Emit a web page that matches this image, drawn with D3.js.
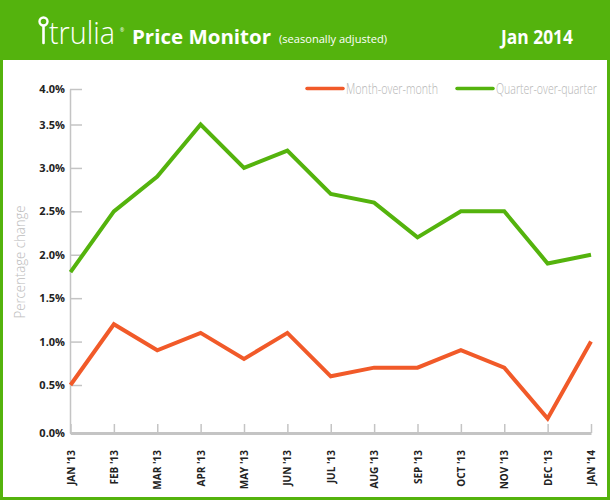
<!DOCTYPE html>
<html>
<head>
<meta charset="utf-8">
<script src="https://cdn.jsdelivr.net/npm/d3@7"></script>
<style>
  html, body { margin: 0; padding: 0; background: #fff; }
  svg { display: block; }
</style>
</head>
<body>
<svg id="chart" width="610" height="500"></svg>
<script>
const months = ["JAN '13","FEB '13","MAR '13","APR '13","MAY '13","JUN '13","JUL '13","AUG '13","SEP '13","OCT '13","NOV '13","DEC '13","JAN '14"];
const monthOverMonth = [0.5, 1.2, 0.9, 1.1, 0.8, 1.1, 0.6, 0.7, 0.7, 0.9, 0.7, 0.15, 1.0];
const quarterOverQuarter = [1.8, 2.5, 2.9, 3.5, 3.0, 3.2, 2.7, 2.6, 2.2, 2.5, 2.5, 1.9, 2.0];
const yTicks = [0, 0.5, 1.0, 1.5, 2.0, 2.5, 3.0, 3.5, 4.0];
const seriesNames = ["Month-over-month", "Quarter-over-quarter"];

const GREEN = "#54b30d";
const ORANGE = "#f15a29";
const AXIS = "#c4c4c4";

const svg = d3.select("#chart");

// frame
svg.append("rect").attr("x", 0).attr("y", 0).attr("width", 610).attr("height", 500).attr("fill", GREEN);
svg.append("rect").attr("x", 3).attr("y", 60).attr("width", 604).attr("height", 437).attr("fill", "#fff");

// header
const pin = svg.append("g").attr("fill", "none").attr("stroke", "#fff");
pin.append("circle").attr("cx", 43.5).attr("cy", 21.5).attr("r", 4).attr("stroke-width", 2.4);
pin.append("path").attr("d", "M43.5,26 L43.5,43").attr("stroke-width", 2.6).attr("stroke-linecap", "round");

svg.append("text").attr("x", 49).attr("y", 44)
  .attr("font-family", "'Open Sans', sans-serif").attr("font-weight", 300)
  .attr("font-size", 31).attr("fill", "#fff")
  .attr("textLength", 66).attr("lengthAdjust", "spacingAndGlyphs")
  .text("trulia");
svg.append("text").attr("x", 120).attr("y", 32)
  .attr("font-family", "'Open Sans', sans-serif").attr("font-size", 5).attr("fill", "#fff")
  .text("®");
svg.append("text").attr("x", 132).attr("y", 44)
  .attr("font-family", "'Open Sans', sans-serif").attr("font-weight", 700)
  .attr("font-size", 20).attr("fill", "#fff")
  .attr("textLength", 139).attr("lengthAdjust", "spacingAndGlyphs")
  .text("Price Monitor");
svg.append("text").attr("x", 279).attr("y", 43)
  .attr("font-family", "'Open Sans', sans-serif").attr("font-weight", 400)
  .attr("font-size", 10.5).attr("fill", "#fff")
  .attr("textLength", 108).attr("lengthAdjust", "spacingAndGlyphs")
  .text("(seasonally adjusted)");
svg.append("text").attr("x", 573).attr("y", 44).attr("text-anchor", "end")
  .attr("font-family", "'Open Sans', sans-serif").attr("font-weight", 700)
  .attr("font-size", 19).attr("fill", "#fff")
  .attr("textLength", 72).attr("lengthAdjust", "spacingAndGlyphs")
  .text("Jan 2014");

// scales
const x = d3.scalePoint().domain(months).range([70.5, 591]);
const y = d3.scaleLinear().domain([0, 0.5, 3.5, 4.0]).range([433, 385, 124.5, 89]);

// y axis
const yAxis = svg.append("g").attr("transform", "translate(70,0)")
  .call(d3.axisLeft(y).tickValues(yTicks).tickSizeInner(-12).tickSizeOuter(0).tickPadding(5)
    .tickFormat(d => d.toFixed(1) + "%"));
yAxis.select(".domain").attr("stroke", AXIS).attr("stroke-width", 1.5);
yAxis.selectAll(".tick line").attr("stroke", AXIS).attr("stroke-width", 1.5);
yAxis.selectAll(".tick text")
  .attr("font-family", "'Open Sans', sans-serif").attr("font-weight", 700)
  .attr("font-size", 11).attr("fill", "#222");

// x axis
const xAxis = svg.append("g").attr("transform", "translate(0,433)")
  .call(d3.axisBottom(x).tickSizeInner(-9).tickSizeOuter(0));
xAxis.select(".domain").attr("stroke", AXIS).attr("stroke-width", 3);
xAxis.selectAll(".tick line").attr("stroke", AXIS).attr("stroke-width", 1.5);
xAxis.selectAll(".tick text")
  .attr("transform", "rotate(-90)")
  .attr("x", -17).attr("y", 0).attr("dy", "0.35em")
  .attr("text-anchor", "end")
  .attr("font-family", "'Open Sans', sans-serif").attr("font-weight", 700)
  .attr("font-size", 10).attr("fill", "#222");

// y title
svg.append("text").attr("transform", "translate(25,262) rotate(-90)")
  .attr("text-anchor", "middle")
  .attr("font-family", "'Open Sans', sans-serif").attr("font-weight", 300)
  .attr("font-size", 15).attr("fill", "#bdbdbd")
  .attr("textLength", 113).attr("lengthAdjust", "spacingAndGlyphs")
  .text("Percentage change");

// lines
const line = d3.line().x((d, i) => x(months[i])).y(d => y(d));
svg.append("path").datum(quarterOverQuarter).attr("d", line)
  .attr("fill", "none").attr("stroke", GREEN).attr("stroke-width", 4);
svg.append("path").datum(monthOverMonth).attr("d", line)
  .attr("fill", "none").attr("stroke", ORANGE).attr("stroke-width", 4);

// legend
const legend = [
  {name: seriesNames[0], color: ORANGE, x0: 307, x1: 343, tx: 346, tl: 92},
  {name: seriesNames[1], color: GREEN, x0: 457, x1: 493, tx: 496, tl: 101}
];
legend.forEach(l => {
  svg.append("line").attr("x1", l.x0).attr("x2", l.x1).attr("y1", 88.5).attr("y2", 88.5)
    .attr("stroke", l.color).attr("stroke-width", 3.5).attr("stroke-linecap", "round");
  const t = svg.append("text").attr("x", 0).attr("y", 0)
    .attr("font-family", "'Open Sans', sans-serif").attr("font-weight", 300)
    .attr("font-size", 14).attr("fill", "#b5b5b5")
    .text(l.name);
  const w = t.node().getComputedTextLength();
  t.attr("transform", `translate(${l.tx},93.5) scale(${l.tl / w},1)`);
});
</script>
</body>
</html>
